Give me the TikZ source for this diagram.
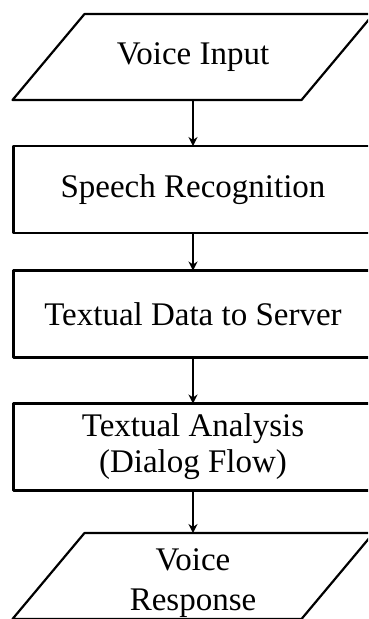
\documentclass[tikz,border=0pt]{standalone}
\usepackage{fontspec}
\setmainfont{Liberation Serif}
\usetikzlibrary{arrows.meta}
\newcommand\slantbox[1]{\draw[line width=2.2pt] ([xshift=-36pt]#1.south west) -- ([xshift=36pt]#1.north west) -- ([xshift=36pt]#1.north east) -- ([xshift=-36pt]#1.south east) -- cycle;}
\begin{document}
\begin{tikzpicture}[x=1pt, y=-1pt, font=\fontsize{33}{36}\selectfont, line join=round, >={Stealth[length=9pt,width=9pt]},
		box/.style={draw, line width=2.2pt, rectangle, minimum width=359pt, minimum height=87pt, inner sep=0pt, outer sep=0pt, align=center},
		io/.style={rectangle, minimum width=289pt, minimum height=86pt, inner sep=0pt, outer sep=0pt, align=center},
		link/.style={->, line width=2.2pt}]
			\useasboundingbox (0,0) rectangle (368,619);
			\clip (0,0) rectangle (368,619);
			\node[io] (voice) at (193,57) {Voice Input};
			\node[box] (speech) at (193,189.5) {Speech Recognition};
			\node[box] (server) at (193,314) {Textual Data to Server};
			\node[box] (dialog) at (193,447) {Textual Analysis\\(Dialog Flow)};
			\node[io, label={[align=center, yshift=-7pt]center:Voice\\[4pt]Response}] (reply) at (193,576) {};
			\slantbox{voice}
			\slantbox{reply}
			\draw[link] (voice) -- (speech);
			\draw[link] (speech) -- (server);
			\draw[link] (server) -- (dialog);
			\draw[link] (dialog) -- (reply);
		\end{tikzpicture}
\end{document}
